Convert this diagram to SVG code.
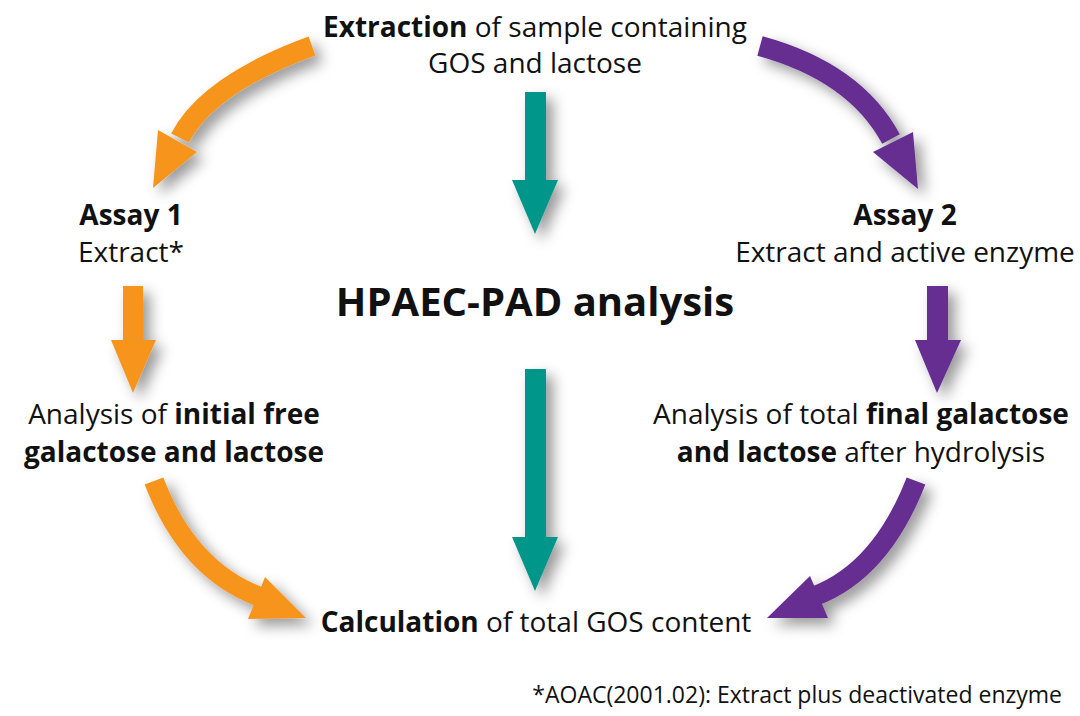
<svg xmlns="http://www.w3.org/2000/svg" width="1080" height="716" viewBox="0 0 1080 716">
<style>
text{font-family:"Open Sans","Liberation Sans",sans-serif;fill:#111;font-size:28px;text-anchor:middle}
.b{font-weight:bold}
.big{font-size:40px;font-weight:bold}
.foot{font-size:23px;text-anchor:end}
.or{fill:#F7941E}.pu{fill:#662D91}.te{fill:#00978A}
.ors{stroke:#F7941E}.pus{stroke:#662D91}
.shaft{fill:none;stroke-width:20;stroke-linecap:butt}
</style>
<defs>
<filter id="sh" x="-60%" y="-60%" width="220%" height="220%">
<feDropShadow dx="7" dy="7" stdDeviation="7" flood-color="#000" flood-opacity="0.4"/>
</filter>
</defs>
<rect width="1080" height="716" fill="#fff"/>
<g id="connectors" filter="url(#sh)">
<g id="c-extract-assay1">
<path class="shaft ors" d="M312,46 Q208,84 180,138"/>
<polygon class="or" points="158,130 197,152 153,188"/>
</g>
<g id="c-extract-assay2">
<path class="shaft pus" d="M760,46 Q855,72 891,139"/>
<polygon class="pu" points="873,152 913,132 918,189"/>
</g>
<g id="c-extract-hpaec">
<rect class="te" x="525" y="92" width="21" height="92"/>
<polygon class="te" points="512,180 558,180 535,234"/>
</g>
<g id="c-hpaec-calc">
<rect class="te" x="525" y="369" width="21" height="172"/>
<polygon class="te" points="512,537 558,537 535,591"/>
</g>
<g id="c-assay1-analysis1">
<rect class="or" x="123" y="286" width="20" height="58"/>
<polygon class="or" points="111,340 156,340 133,393"/>
</g>
<g id="c-assay2-analysis2">
<rect class="pu" x="927" y="286" width="21" height="58"/>
<polygon class="pu" points="915,340 961,340 937,393"/>
</g>
<g id="c-analysis1-calc">
<path class="shaft ors" d="M154,481 Q188,570 260,597"/>
<polygon class="or" points="265,577 248,619 306,618"/>
</g>
<g id="c-analysis2-calc">
<path class="shaft pus" d="M916,481 Q881,571 815,596"/>
<polygon class="pu" points="810,576 828,618 767,618"/>
</g>
</g>
<g id="n-extraction">
<text x="535" y="37"><tspan class="b">Extraction</tspan> of sample containing</text>
<text x="535" y="73">GOS and lactose</text>
</g>
<g id="n-assay1">
<text x="131" y="225" class="b">Assay 1</text>
<text x="131" y="262">Extract*</text>
</g>
<g id="n-assay2">
<text x="905" y="225" class="b">Assay 2</text>
<text x="905" y="262">Extract and active enzyme</text>
</g>
<g id="n-hpaec">
<text x="535" y="316" class="big">HPAEC-PAD analysis</text>
</g>
<g id="n-analysis1">
<text x="174" y="424">Analysis of <tspan class="b">initial free</tspan></text>
<text x="174" y="462" class="b">galactose and lactose</text>
</g>
<g id="n-analysis2">
<text x="861" y="424">Analysis of total <tspan class="b">final galactose</tspan></text>
<text x="861" y="462"><tspan class="b">and lactose</tspan> after hydrolysis</text>
</g>
<g id="n-calc">
<text x="536" y="632"><tspan class="b">Calculation</tspan> of total GOS content</text>
</g>
<g id="n-footnote">
<text x="1062" y="703" class="foot">*AOAC(2001.02): Extract plus deactivated enzyme</text>
</g>
</svg>
